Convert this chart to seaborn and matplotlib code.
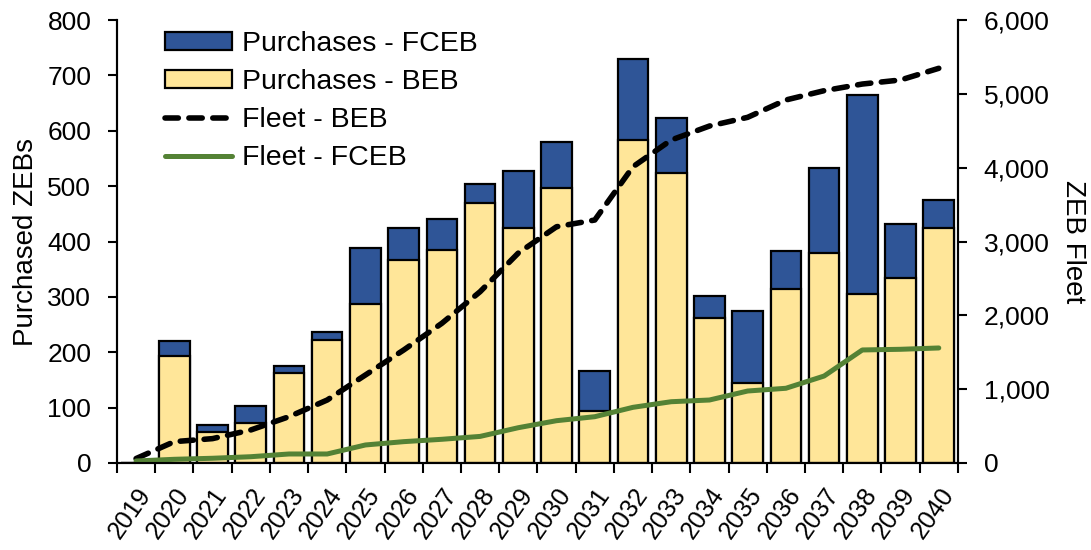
import numpy as np
import pandas as pd
import matplotlib
matplotlib.use("Agg")
import matplotlib.pyplot as plt
from matplotlib.ticker import FuncFormatter, MultipleLocator
import seaborn as sns

# Annual zero-emission bus purchases and resulting fleet size
years = [str(y) for y in range(2019, 2041)]
purchases_beb = [0, 193, 56, 72, 162, 222, 287, 366, 384, 470, 424,
                 496, 94, 584, 524, 262, 144, 315, 380, 306, 334, 424]
purchases_fceb = [0, 27, 12, 31, 13, 15, 102, 58, 56, 34, 104,
                  83, 73, 145, 99, 40, 130, 68, 153, 358, 97, 51]
fleet_beb = [60, 289, 330, 447, 627, 853, 1192, 1530, 1892, 2320, 2844,
             3200, 3291, 4013, 4375, 4564, 4682, 4917, 5043, 5133, 5188, 5346]
fleet_fceb = [27, 50, 64, 85, 122, 122, 244, 289, 321, 360, 478,
              573, 627, 754, 830, 853, 975, 1012, 1178, 1531, 1540, 1558]

BLUE = "#2F5597"
YELLOW = "#FFE699"
GREEN = "#548235"

sns.set_style("ticks")
plt.rcParams["font.family"] = ["Liberation Sans", "DejaVu Sans"]
plt.rcParams["axes.linewidth"] = 1.5
plt.rcParams["axes.edgecolor"] = "black"
for key in ("text.color", "axes.labelcolor", "xtick.color", "ytick.color"):
    plt.rcParams[key] = "black"

df = pd.DataFrame({"year": years, "beb": purchases_beb, "fceb": purchases_fceb})
df["total"] = df["beb"] + df["fceb"]
pos = np.arange(len(years))

fig, ax = plt.subplots(figsize=(10.91, 5.5), dpi=100)
fig.subplots_adjust(left=0.1072, right=0.878, top=0.9636, bottom=0.1582)

# Stacked bars: full height in blue, BEB portion drawn over it in yellow
sns.barplot(data=df, x="year", y="total", color=BLUE, saturation=1,
            edgecolor="black", linewidth=1.6, width=0.8, ax=ax)
sns.barplot(data=df, x="year", y="beb", color=YELLOW, saturation=1,
            edgecolor="black", linewidth=1.6, width=0.8, ax=ax)

ax2 = ax.twinx()
sns.lineplot(x=pos, y=fleet_beb, ax=ax2, color="black", linewidth=4.0)
sns.lineplot(x=pos, y=fleet_fceb, ax=ax2, color=GREEN, linewidth=3.6)
beb_line, fceb_line = ax2.lines[0], ax2.lines[1]
beb_line.set_dashes([2.4, 1.9])
beb_line.set_dash_capstyle("round")
fceb_line.set_solid_capstyle("round")

ax.set_xlim(-0.5, len(years) - 0.5)
ax.set_ylim(0, 800)
ax.yaxis.set_major_locator(MultipleLocator(100))
ax2.set_ylim(0, 6000)
ax2.yaxis.set_major_locator(MultipleLocator(1000))
ax2.yaxis.set_major_formatter(FuncFormatter(lambda v, p: f"{int(v):,}"))

# Category labels under each bar, tick marks between categories
ax.set_xticks(pos)
ax.set_xticklabels(years, rotation=55, ha="right", va="top",
                   rotation_mode="anchor")
ax.set_xticks(np.arange(-0.5, len(years), 1), minor=True)
ax.tick_params(axis="x", which="major", length=0, pad=15, labelsize=18)
ax.tick_params(axis="x", which="minor", length=7, width=1.5,
               direction="out", color="black")
ax.tick_params(axis="y", length=6.5, width=1.5, pad=12, labelsize=19,
               direction="out", color="black")
ax2.tick_params(axis="y", length=6.5, width=1.5, pad=12, labelsize=19,
                direction="out", color="black")

ax.set_xlabel("")
ax.set_ylabel("Purchased ZEBs", fontsize=20, labelpad=6)
ax2.set_ylabel("ZEB Fleet", fontsize=20, rotation=270, labelpad=26)

for a in (ax, ax2):
    a.spines["top"].set_visible(False)
    for s in ("left", "right", "bottom"):
        a.spines[s].set_color("black")
        a.spines[s].set_linewidth(1.5)

# Legend combining bars and lines
bar_fceb = ax.patches[0]
bar_beb = ax.patches[len(years)]
handles = [bar_fceb, bar_beb, beb_line, fceb_line]
labels = ["Purchases - FCEB", "Purchases - BEB", "Fleet - BEB", "Fleet - FCEB"]
if ax2.get_legend() is not None:
    ax2.get_legend().remove()
ax2.legend(handles, labels, loc="upper left", bbox_to_anchor=(0.057, 0.975),
           frameon=False, fontsize=20.5, borderpad=0, borderaxespad=0,
           handlelength=2.35, handleheight=0.55, handletextpad=0.35,
           labelspacing=0.42, labelcolor="black")

fig.savefig("out.png", dpi=100)
